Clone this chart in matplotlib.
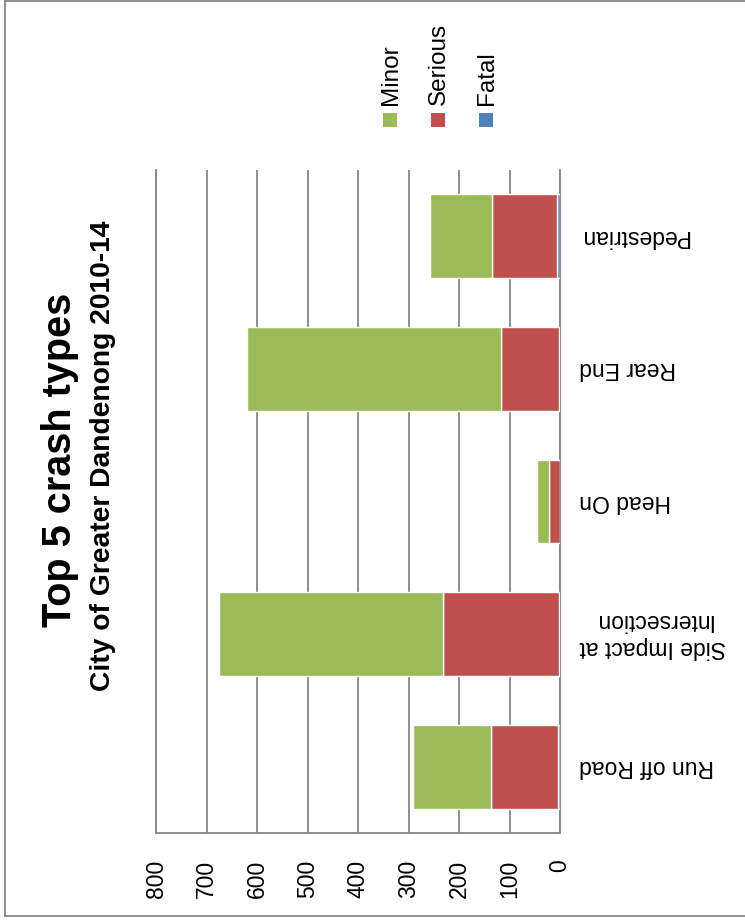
import matplotlib
matplotlib.use("Agg")
import matplotlib.pyplot as plt
from matplotlib.patches import Rectangle
from matplotlib.lines import Line2D
import numpy as np

# ---- data ----
categories = ["Run off Road", "Side Impact at\nIntersection", "Head On", "Rear End", "Pedestrian"]
fatal = [3, 1, 0, 1, 5]
serious = [134, 231, 22, 116, 130]
minor = [155, 443, 23, 503, 122]
series_names = ["Minor", "Serious", "Fatal"]
value_ticks = [0, 100, 200, 300, 400, 500, 600, 700, 800]
title = "Top 5 crash types"
subtitle = "City of Greater Dandenong 2010-14"

# ---- style ----
C_MINOR = "#9BBB59"
C_SERIOUS = "#C0504D"
C_FATAL = "#4F81BD"
GRID = "#868686"
FONT = "Liberation Sans"
plt.rcParams["font.family"] = [FONT, "DejaVu Sans"]

W, H = 745, 921
fig = plt.figure(figsize=(W / 100, H / 100), dpi=100)

def fx(px):
    return px / W

def fy(py):
    return 1 - py / H

left, right, top, bottom = 156, 560, 170, 833
ax = fig.add_axes([fx(left), fy(bottom), fx(right - left), fy(top) - fy(bottom)])

y = np.arange(len(categories))
f = np.array(fatal)
s = np.array(serious)
m = np.array(minor)
bh = 0.633
kw = dict(height=bh, edgecolor="white", linewidth=1.0, zorder=3)
ax.barh(y, f, color=C_FATAL, **kw)
ax.barh(y, s, left=f, color=C_SERIOUS, **kw)
ax.barh(y, m, left=f + s, color=C_MINOR, **kw)

ax.set_xlim(800, 0)
ax.set_ylim(-0.5, len(categories) - 0.5)
ax.set_xticks(value_ticks)
ax.set_xticklabels([str(v) for v in value_ticks])
ax.grid(axis="x", color=GRID, linewidth=1.3, zorder=0)
ax.set_axisbelow(True)

ax.spines["top"].set_visible(False)
for sp in ["left", "right", "bottom"]:
    ax.spines[sp].set_color(GRID)
    ax.spines[sp].set_linewidth(1.3)

ax.tick_params(axis="x", length=0, pad=19, labelsize=16.5, labelrotation=90)
ax.yaxis.tick_right()
ax.set_yticks(y)
ax.set_yticklabels(categories)
ax.tick_params(axis="y", length=0, pad=14, labelsize=16.5)
for lab in ax.get_yticklabels():
    lab.set_rotation(180)
    lab.set_multialignment("center")
    lab.set_verticalalignment("center")

# ---- title ----
fig.text(fx(60), fy(460), title, rotation=90, ha="center", va="center",
         fontsize=28.5, fontweight="bold")
fig.text(fx(103), fy(456), subtitle, rotation=90, ha="center", va="center",
         fontsize=20.3, fontweight="bold")

# ---- legend ----
leg_x = [390, 438, 486]
leg_c = [C_MINOR, C_SERIOUS, C_FATAL]
sq = 13.5
for name, xc, col in zip(series_names, leg_x, leg_c):
    fig.text(fx(xc + 1), fy(105), name, rotation=90, ha="center", va="bottom", fontsize=17.5)
    fig.patches.append(Rectangle((fx(xc - sq / 2), fy(127)), fx(sq), fy(113) - fy(127),
                                 transform=fig.transFigure, facecolor=col, edgecolor="none"))

# ---- chart border ----
bc = "#878787"
fig.add_artist(Line2D([fx(5), fx(5)], [fy(1), fy(916)], color=bc, lw=1.3, transform=fig.transFigure))
fig.add_artist(Line2D([fx(5), 1], [fy(1), fy(1)], color=bc, lw=1.3, transform=fig.transFigure))
fig.add_artist(Line2D([fx(5), 1], [fy(916), fy(916)], color=bc, lw=1.3, transform=fig.transFigure))

fig.savefig("out.png", dpi=100)
